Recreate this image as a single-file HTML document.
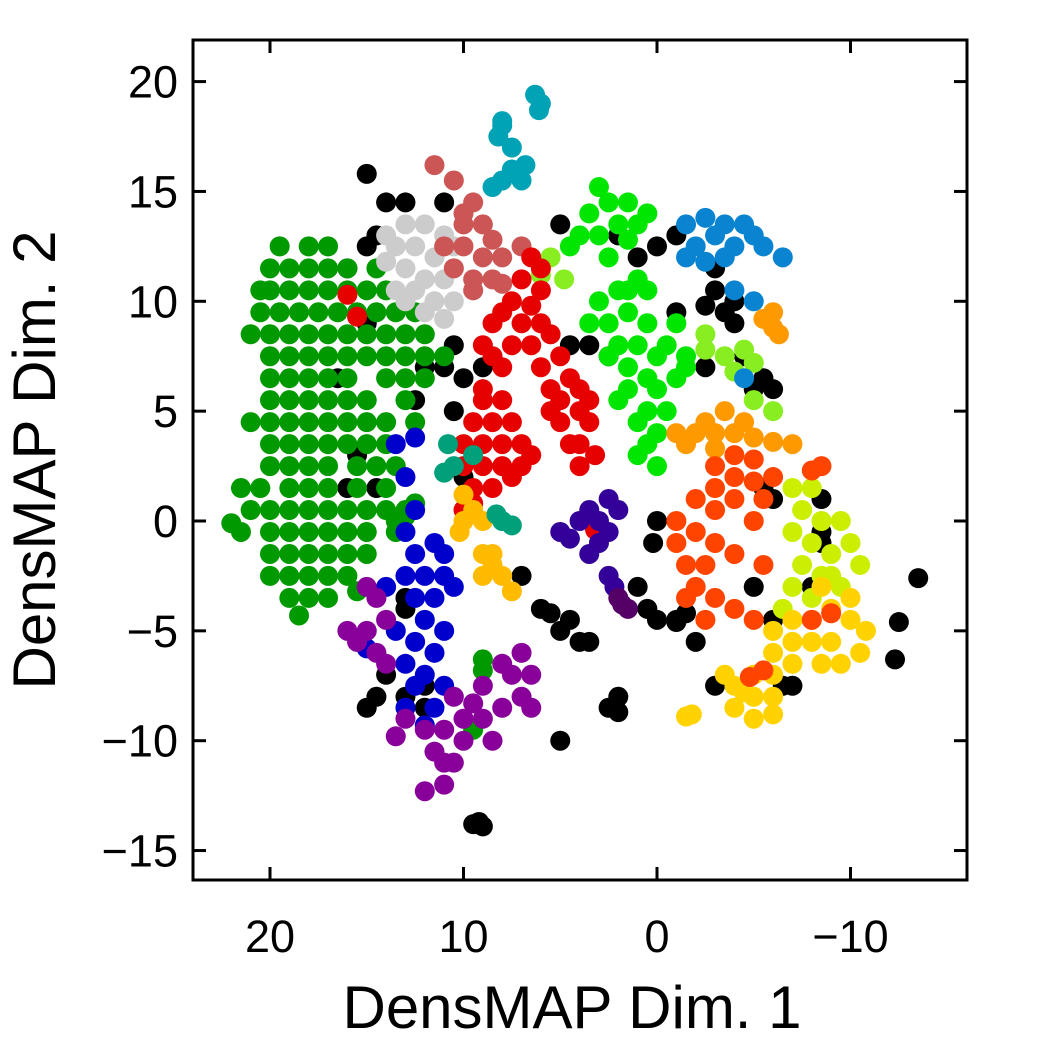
<!DOCTYPE html>
<html><head><meta charset="utf-8"><style>
html,body{margin:0;padding:0;background:#fff;}
svg{display:block;font-family:"Liberation Sans",sans-serif;}
</style></head><body>
<svg id="chart" width="1050" height="1050" viewBox="0 0 1050 1050">
<g id="points"></g>
<g id="axes"></g>
<text x="572" y="1028" font-size="60" text-anchor="middle">DensMAP Dim. 1</text>
<text x="0" y="0" font-size="60" text-anchor="middle" transform="translate(55,460) rotate(-90)">DensMAP Dim. 2</text>
</svg>
<script>
const xTicks=[20,10,0,-10];
const yTicks=[20,15,10,5,0,-5,-10,-15];
const black=[[15,15.8],[14,14.5],[13,14.5],[14.5,13],[15,12.5],[11,14.5],[16,11.5],[10.5,8],[12,7],[11,7],[9,7],[10,6.5],[10.5,5],[12.5,5.5],[15.5,3],[14.5,1.5],[10,2],[13,-4],[7,-2.5],[6,-4],[4.5,-4.5],[4,-5.5],[3.5,-5.5],[2,-8],[2.5,-8.5],[2,-8.7],[0,-4.5],[-1,-4.5],[-1.5,-4.2],[0.5,-4],[-2,-5.5],[0,0],[0.2,-1],[1,-3],[-3,-7.5],[-6.5,-7.5],[-7,-7.5],[-13.5,-2.6],[-12.5,-4.6],[-12.3,-6.3],[-8.5,-1],[-8,-3],[-5,-3],[-6,-4.5],[9.5,-13.8],[9.2,-13.7],[9,-13.9],[5,-10],[14.5,-8],[15,-8.5],[13,-8],[12,-8.5],[13,-3.5],[-1,13],[0,12.5],[-3,11.5],[-3,10.5],[-4,10],[-2.5,9.8],[-3.5,9.5],[2,13],[1,12],[-1,9.5],[-2.5,7],[-4.5,7.5],[-5,6],[-5.5,6.5],[-6,6],[3.5,8],[4.5,8],[2.5,7.5],[5,13.5],[-4,9],[-5.5,1.5],[-6,1],[-8.5,1],[-8.5,-0.5],[-1,-4.6],[5.5,-4.2],[5,-5],[12,-7.5],[14,-7],[16,1.5],[16.5,6.5],[15,9]];
const darkGreen=[[17,12.5],[18,12.5],[19.5,12.5],[14.5,11.5],[16,11.5],[17,11.5],[18,11.5],[19,11.5],[20,11.5],[14,10.5],[15,10.5],[16,10.5],[17,10.5],[18,10.5],[19,10.5],[20,10.5],[20.5,10.5],[12.5,9.5],[13.5,9.5],[14.5,9.5],[15.5,9.5],[16.5,9.5],[17.5,9.5],[18.5,9.5],[19.5,9.5],[20.5,9.5],[12,8.5],[13,8.5],[14,8.5],[15,8.5],[16,8.5],[17,8.5],[18,8.5],[19,8.5],[20,8.5],[21,8.5],[11,7.5],[12,7.5],[13,7.5],[14,7.5],[15,7.5],[16,7.5],[17,7.5],[18,7.5],[19,7.5],[20,7.5],[12,6.5],[13,6.5],[14,6.5],[16,6.5],[17,6.5],[18,6.5],[19,6.5],[20,6.5],[13,5.5],[15,5.5],[16,5.5],[17,5.5],[18,5.5],[19,5.5],[20,5.5],[12.5,4.5],[14,4.5],[15,4.5],[16,4.5],[17,4.5],[18,4.5],[19,4.5],[20,4.5],[21,4.5],[14,3.5],[15,3.5],[16,3.5],[17,3.5],[18,3.5],[19,3.5],[20,3.5],[13.5,2.5],[14.5,2.5],[15.5,2.5],[17,2.5],[18,2.5],[19,2.5],[20,2.5],[14,1.5],[15.5,1.5],[17,1.5],[18,1.5],[19,1.5],[20.5,1.5],[21.5,1.5],[13,0.5],[14,0.5],[15,0.5],[16,0.5],[17,0.5],[18,0.5],[19,0.5],[20,0.5],[21,0.5],[13.5,-0.5],[15,-0.5],[16,-0.5],[17,-0.5],[18,-0.5],[19,-0.5],[20,-0.5],[21.5,-0.5],[22,-0.1],[15,-1.5],[16,-1.5],[17,-1.5],[18,-1.5],[19,-1.5],[20,-1.5],[16,-2.5],[17,-2.5],[18,-2.5],[19,-2.5],[20,-2.5],[17,-3.5],[18,-3.5],[19,-3.5],[18.5,-4.3],[9,-6.3],[9,-6.8],[9.5,-9.5],[15.5,-3.2],[13.5,0],[13,0.2],[12.5,0.8]];
const gray=[[14,13],[13,13.5],[12,13.5],[11,13],[13.5,12.5],[12.5,12.5],[11.5,12],[10.5,12.5],[14,11.8],[13,11.5],[12,11],[11,11],[13.5,10.5],[12.5,10.5],[11.5,10],[10.5,10],[12,9.5],[11,9.2],[13,10],[10.5,11.5]];
const salmon=[[11.5,16.2],[10.5,15.5],[9.5,14.5],[10,13.5],[9,13.5],[11,12.5],[10,12.5],[9,12],[8,12],[10.5,11.5],[9.5,11],[8.5,11],[8,10.8],[7,12.5],[9.5,10.5],[10,14],[8.5,12.8]];
const teal=[[6.3,19.4],[6,19],[8,18],[8.2,17.5],[7.5,17],[7.5,16],[8,15.5],[8.5,15.2],[7,15.5],[6.8,16.2],[8,18.2],[6.1,18.7]];
const red=[[6.5,12],[6,11.5],[7,11],[6,10.5],[7.5,10],[6.5,9.8],[8,9.5],[8.5,9],[7,9],[6,9],[5.5,8.5],[6.5,8],[7.5,8],[8.5,7.5],[5,7.5],[6,7],[4.5,6.5],[5.5,6],[4,6],[5,5.5],[4,5],[3.5,4.5],[5,4.5],[4,3.5],[3.2,3],[4.5,3.5],[9,8],[8,7],[4,2.5],[5.5,5],[3.5,5.5],[9,5.5],[8,5.5],[9.5,4.5],[8.5,4.5],[7.5,4.5],[10,3.5],[9,3.5],[8,3.5],[7,3.5],[10,2.5],[9,2.5],[8,2.5],[7,2.5],[9.5,1.5],[8.5,1.5],[7.5,2],[9.5,0.8],[10,0.5],[6.5,3],[9,6],[16,10.3],[15.5,9.3],[3.2,-0.4]];
const green=[[3,15.2],[2.5,14.5],[1.5,14.5],[0.5,14],[3.5,14],[2,13.5],[1,13.5],[4,13],[3,13],[1.5,12.8],[4.5,12.5],[2.5,12],[1,11],[2,10.5],[3,10],[0.5,10.5],[1.5,9.5],[3.5,9],[2.5,9],[0.5,9],[-1,9],[-0.5,8],[1,8],[2,8],[0,7.5],[-1.5,7.5],[1.5,7],[0.5,6.5],[-1,6.5],[0,6],[1.5,6],[2,5.5],[0.5,5],[-0.5,5],[1,4.5],[0,4],[0.5,3.5],[1,3],[0,2.5],[-1.5,7],[2.5,7.5],[1.5,10.5]];
const lime=[[5.5,12],[6,11.2],[4.8,11],[-2.5,7.8],[-3.5,7.5],[-4.5,7.8],[-5,7.2],[-4,6.8],[-2.5,8.5],[-6,5],[-5,5.5]];
const steel=[[-1.5,13.5],[-2.5,13.8],[-3.5,13.5],[-4.5,13.5],[-5,13],[-3,13],[-4,12.5],[-2,12.5],[-1.5,12],[-2.5,11.8],[-3.5,12],[-5.5,12.5],[-6.5,12],[-5,10],[-4,10.5],[-4.5,6.5]];
const orange=[[-1,4],[-2,4],[-3,4],[-4,4],[-5,3.8],[-6,3.6],[-7,3.5],[-1.5,3.5],[-3,3.3],[-4.5,4.5],[-2.5,4.5],[-3.5,5],[-6,9.5],[-6,8.8],[-6.3,8.5],[-5.5,9.2]];
const yellowGreen=[[-7,1.5],[-8,1.5],[-7.5,0.5],[-8.5,0],[-9.5,0],[-7,-0.5],[-8,-1],[-9,-1.5],[-10,-1],[-7.5,-2],[-8.5,-2.5],[-9.5,-3],[-7,-3],[-8,-3.5],[-6.5,-4],[-9,-2.5],[-10.5,-2]];
const gold=[[-7,-4.5],[-8,-4.5],[-9,-4],[-10,-4.5],[-10.8,-5],[-6,-5],[-7,-5.5],[-8,-5.5],[-9,-5.5],[-6,-6],[-8.5,-6.5],[-9.5,-6.5],[-5,-7],[-6,-7],[-4,-7.5],[-5,-8],[-6,-8],[-4,-8.5],[-5,-9],[-6,-8.8],[-3.5,-7],[-7,-6.5],[-10,-3.5],[-8.5,-3],[-1.5,-8.9],[-1.8,-8.8],[-4.5,-7.8],[-10.5,-6]];
const orangeRed=[[-4,2],[-5,1.8],[-5.5,1],[-3,1.5],[-4,1],[-2,1],[-3,0.5],[-5,0],[-1,0],[-2,-0.5],[-3,-1],[-4,-1.5],[-1,-1],[-1.5,-2],[-2,-3],[-3,-3.5],[-4,-4],[-5,-4.5],[-1.5,-3.5],[-2.5,-4.5],[-5.5,-2],[-4,3],[-3,2.5],[-5,2.8],[-6,2],[-2.5,-2],[-8,2.3],[-8.5,2.5],[-9,-4.2],[-5.5,-6.8],[-4.8,-7.1],[-8,-4.5]];
const amber=[[10,1.2],[9.5,0.5],[10,0],[9,0],[10.2,-0.5],[9,-1.5],[8.5,-2],[9,-2.5],[8,-2.5],[7.5,-3.2],[8.5,-1.5]];
const indigo=[[5,-0.5],[4,0],[3.5,0.5],[3,0],[2.5,-0.5],[4.5,-0.8],[3,-1],[2,0.5],[2.5,1],[3.5,-1.5],[2.5,-2.5],[2.2,-3]];
const plum=[[2,-3.5],[1.5,-4],[1.8,-3.8]];
const blue=[[12.5,0.5],[13,-0.5],[11.5,-1],[12.5,-1.5],[11,-1.5],[13,-2.5],[12,-2.5],[11,-2.5],[12.5,-3.5],[11.5,-3.5],[12,-4.5],[11,-5],[12.5,-5.5],[11.5,-6],[13,-6.5],[12,-7],[11,-7.5],[12.5,-7.5],[11.5,-8.5],[13,-8.5],[12,-9.3],[14,-3],[10.5,-3],[15,-5.8],[13.5,-5],[13,2],[13.5,3.5],[12.5,3.8]];
const purple=[[16,-5],[15,-5],[15.5,-5.5],[14.5,-6],[14,-4.5],[14.5,-3.5],[15,-3],[14,-6.5],[13,-9],[12,-9.5],[11,-9.5],[10,-10],[11.5,-10.5],[10.5,-11],[11,-12],[12,-12.3],[10,-9],[9,-9],[8,-8.5],[7,-8],[7.5,-7],[6.5,-7],[8,-6.5],[7,-6],[6.5,-8.5],[9,-7.5],[8.5,-10],[13.5,-9.8],[10.5,-8],[9.5,-8.3],[11,-11]];
const seaTeal=[[8,0],[7.5,-0.2],[8.3,0.3],[10.5,2.5],[10.8,3.5],[11,2.2],[9.5,3]];

const X0=193,X1=967,Y0=40,Y1=880;
function sx(v){return 657-19.35*v;}
function sy(v){return 521-21.97*v;}
const NS="http://www.w3.org/2000/svg";
const pg=document.getElementById('points');
const series=[
 ['black',black,'#000000'],['dark-green',darkGreen,'#009a00'],['gray',gray,'#cccccc'],['salmon',salmon,'#cc5555'],
 ['teal',teal,'#00a3b5'],['green',green,'#00e600'],['lime',lime,'#88ee22'],['red',red,'#e60000'],['steel-blue',steel,'#0a84d0'],
 ['orange',orange,'#ff9900'],['yellow-green',yellowGreen,'#ccee00'],['gold',gold,'#ffd200'],['orange-red',orangeRed,'#ff4400'],
 ['amber',amber,'#ffbb00'],['indigo',indigo,'#330099'],['plum',plum,'#550066'],['blue',blue,'#0000cc'],['purple',purple,'#880099'],['sea-teal',seaTeal,'#00a07a']];
series.forEach(s=>{
 const g=document.createElementNS(NS,'g');
 
 
 g.setAttribute('fill',s[2]);
 s[1].forEach(p=>{
  const c=document.createElementNS(NS,'circle');
  
  
  c.setAttribute('cx',sx(p[0]));c.setAttribute('cy',sy(p[1]));c.setAttribute('r',10);
  g.appendChild(c);
 });
 pg.appendChild(g);
});
const ax=document.getElementById('axes');
const fr=document.createElementNS(NS,'rect');


fr.setAttribute('x',X0);fr.setAttribute('y',Y0);fr.setAttribute('width',X1-X0);fr.setAttribute('height',Y1-Y0);
fr.setAttribute('fill','none');fr.setAttribute('stroke','#000');fr.setAttribute('stroke-width',3);
ax.appendChild(fr);
function line(x1,y1,x2,y2,n){const l=document.createElementNS(NS,'line');
 
 
 l.setAttribute('x1',x1);l.setAttribute('y1',y1);l.setAttribute('x2',x2);l.setAttribute('y2',y2);
 l.setAttribute('stroke','#000');l.setAttribute('stroke-width',3);ax.appendChild(l);}
xTicks.forEach(v=>{const x=sx(v);line(x,Y1,x,Y1-13,'x-tick');line(x,Y0,x,Y0+13,'x-tick-top');
 const t=document.createElementNS(NS,'text');
 
 
 t.setAttribute('x',x);t.setAttribute('y',952);t.setAttribute('font-size',45);t.setAttribute('text-anchor','middle');
 t.textContent=v<0?'\u2212'+(-v):String(v);ax.appendChild(t);});
yTicks.forEach(v=>{const y=sy(v);line(X0,y,X0+13,y,'y-tick');line(X1,y,X1-13,y,'y-tick-right');
 const t=document.createElementNS(NS,'text');
 
 
 t.setAttribute('x',178);t.setAttribute('y',y+16);t.setAttribute('font-size',45);t.setAttribute('text-anchor','end');
 t.textContent=v<0?'\u2212'+(-v):String(v);ax.appendChild(t);});
</script>
</body></html>
